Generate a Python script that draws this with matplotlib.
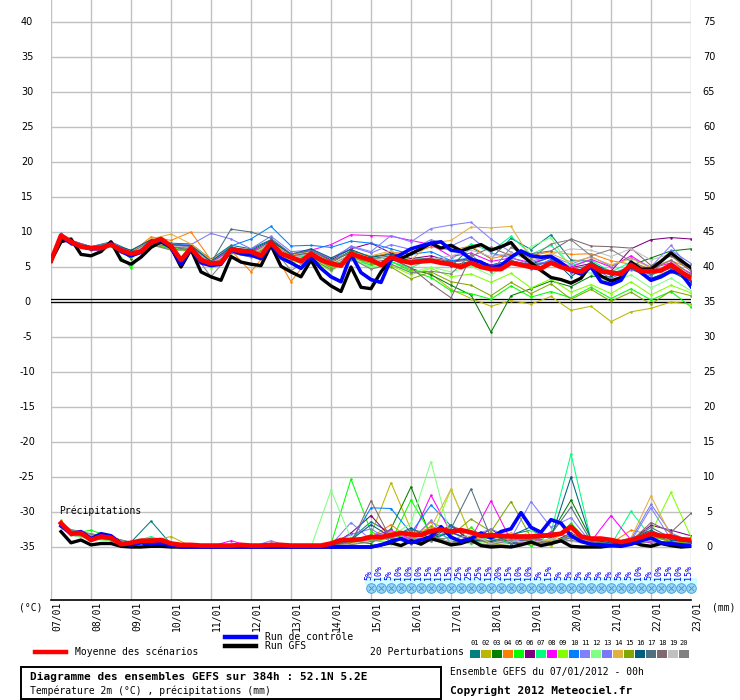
import numpy as np
import matplotlib
matplotlib.use('Agg')
import matplotlib.pyplot as plt
from matplotlib.transforms import blended_transform_factory, offset_copy
from matplotlib.patches import Rectangle
from matplotlib.lines import Line2D

# echeances en heures
hours6 = list(range(0, 385, 6))
hours_memb = [0, 6] + list(range(12, 385, 12))
hours_prec6 = list(range(6, 385, 6))
hours_prec_memb = [6] + list(range(12, 385, 12))

dates = ['07/01', '08/01', '09/01', '10/01', '11/01', '12/01', '13/01', '14/01', '15/01',
         '16/01', '17/01', '18/01', '19/01', '20/01', '21/01', '22/01', '23/01']
temp_ticks = list(range(-35, 41, 5))

# moyenne, run de controle, run GFS (temperature 2m, pas 6h)
t_mean = [5.9, 9.5, 8.6, 7.9, 7.7, 7.7, 8.2, 7.4, 6.9, 7.2,
          8.5, 9.0, 8.0, 6.0, 7.7, 6.0, 5.5, 5.6, 7.5, 7.3,
          7.2, 6.6, 8.5, 6.9, 6.4, 5.8, 6.9, 6.0, 5.5, 5.2,
          6.9, 6.4, 6.0, 5.3, 6.4, 5.9, 5.6, 5.8, 5.9, 5.6,
          5.4, 5.0, 5.6, 5.0, 4.7, 4.7, 5.6, 5.3, 5.0, 4.8,
          5.6, 5.0, 4.6, 4.3, 5.3, 4.4, 4.2, 4.0, 5.3, 4.4,
          4.4, 4.5, 5.3, 4.3, 3.4]
t_ctrl = [5.9, 9.3, 8.4, 7.9, 7.6, 7.6, 8.3, 7.2, 6.6, 7.1,
          8.6, 8.8, 7.8, 5.4, 7.6, 5.6, 5.2, 5.4, 7.4, 6.9,
          6.7, 6.2, 8.3, 6.3, 5.6, 4.8, 6.4, 4.8, 3.6, 2.9,
          6.8, 4.2, 3.2, 2.8, 6.1, 6.8, 7.6, 8.0, 8.4, 8.6,
          7.4, 7.2, 6.1, 5.7, 4.9, 5.2, 6.4, 7.3, 6.6, 6.4,
          6.5, 5.6, 4.5, 4.0, 5.0, 2.9, 2.5, 3.1, 5.4, 4.2,
          3.1, 3.6, 4.4, 4.1, 2.2]
t_gfs = [5.9, 8.6, 9.0, 6.8, 6.6, 7.2, 8.6, 6.0, 5.4, 6.4,
         7.8, 8.6, 7.8, 5.0, 7.5, 4.3, 3.6, 3.1, 6.5, 5.7,
         5.4, 5.2, 8.1, 5.1, 4.3, 3.6, 6.0, 3.4, 2.3, 1.5,
         5.0, 2.1, 1.9, 4.3, 6.1, 6.2, 6.9, 7.6, 8.4, 7.7,
         8.1, 7.3, 7.8, 8.2, 7.4, 7.9, 8.5, 6.8, 5.6, 4.5,
         3.5, 3.2, 2.7, 3.4, 5.3, 3.7, 3.0, 3.5, 5.7, 4.7,
         4.7, 5.8, 7.0, 5.9, 4.9]

# 20 perturbations (temperature 2m : 0h, 6h puis pas 12h)
t01 = [5.9, 9.5, 8.7, 7.9, 8.6, 7.3, 8.9, 8.4, 8.3, 6.1, 8.1, 7.6, 8.9, 6.8, 7.0, 5.8, 7.3, 6.5, 6.9, 6.1, 6.2, 5.1, 7.8, 6.2, 9.1, 7.5, 9.6, 6.0, 5.8, 3.9, 5.0, 3.3, 4.6, 2.6]
t02 = [5.9, 9.4, 8.4, 7.6, 8.1, 6.7, 8.6, 8.1, 7.8, 5.2, 7.8, 6.9, 8.3, 6.0, 6.6, 5.0, 6.5, 5.6, 5.8, 4.6, 4.0, 1.8, 0.5, -0.6, 0.2, -0.3, 0.8, -1.2, -0.6, -2.8, -1.4, -0.9, 0.0, -0.3]
t03 = [5.9, 9.6, 8.5, 7.8, 8.3, 6.2, 8.8, 7.5, 8.2, 5.8, 7.9, 7.0, 8.7, 6.6, 7.0, 5.6, 7.2, 6.1, 6.3, 4.8, 3.9, 2.4, 1.0, -4.3, 0.9, 1.9, 3.0, 2.2, 3.7, 3.6, 5.2, 6.3, 7.3, 7.6]
t04 = [5.9, 9.3, 8.6, 7.7, 8.4, 7.0, 9.3, 8.8, 10.0, 6.0, 7.4, 4.3, 7.9, 2.9, 6.6, 4.8, 6.6, 6.3, 7.1, 6.9, 7.9, 7.4, 8.0, 6.2, 6.8, 6.6, 7.2, 6.8, 6.9, 5.9, 5.4, 4.8, 5.9, 4.8]
t05 = [5.9, 9.7, 8.3, 7.5, 8.0, 4.9, 8.4, 7.8, 7.5, 5.0, 7.2, 6.6, 8.0, 5.8, 6.3, 4.6, 6.0, 5.3, 5.8, 4.4, 3.5, 1.6, 1.2, 0.4, 2.3, 0.7, 1.5, 0.6, 2.1, 0.5, 1.9, 0.3, 1.5, -0.7]
t06 = [5.9, 9.4, 8.8, 7.9, 8.1, 7.0, 8.6, 8.1, 7.8, 5.6, 7.6, 7.2, 8.6, 6.5, 7.5, 6.0, 7.6, 8.4, 7.0, 6.2, 6.6, 5.8, 6.2, 5.3, 5.9, 5.2, 5.8, 4.9, 5.5, 4.4, 7.6, 8.9, 9.2, 9.0]
t07 = [5.9, 9.5, 8.6, 7.6, 8.2, 6.8, 8.4, 7.7, 7.6, 5.2, 7.3, 7.0, 8.3, 6.2, 6.7, 5.1, 6.5, 5.2, 5.7, 4.9, 6.2, 6.0, 8.3, 7.2, 9.4, 6.8, 8.1, 5.2, 6.0, 4.3, 5.7, 3.8, 5.0, 3.6]
t08 = [5.9, 9.6, 8.5, 7.8, 8.2, 6.9, 8.5, 8.1, 7.6, 5.4, 7.7, 7.3, 8.4, 6.6, 7.4, 8.2, 9.6, 9.5, 9.4, 8.8, 8.2, 6.5, 7.0, 5.8, 6.3, 5.6, 6.4, 5.0, 6.1, 5.0, 6.6, 4.8, 5.6, 4.1]
t09 = [5.9, 9.3, 8.4, 7.6, 8.0, 6.6, 8.3, 7.6, 7.5, 4.9, 7.0, 6.8, 8.1, 5.6, 6.0, 4.4, 6.3, 4.9, 5.2, 3.9, 4.8, 3.6, 4.0, 2.8, 4.1, 2.0, 3.3, 1.4, 2.5, 1.2, 2.9, 1.0, 2.4, 1.3]
t10 = [5.9, 9.5, 8.7, 7.8, 8.3, 7.1, 8.7, 8.3, 8.1, 5.9, 8.0, 9.0, 10.8, 8.0, 8.1, 7.8, 8.7, 8.4, 7.6, 6.8, 7.2, 5.9, 6.3, 5.2, 6.0, 4.7, 6.1, 4.2, 5.2, 3.8, 5.1, 3.9, 4.9, 2.9]
t11 = [5.9, 9.8, 8.8, 7.9, 8.5, 7.2, 8.8, 8.3, 7.9, 5.7, 7.7, 7.0, 8.6, 6.5, 6.9, 5.6, 8.0, 7.2, 9.5, 8.6, 10.5, 11.0, 11.4, 9.0, 7.1, 5.8, 6.6, 5.4, 6.5, 5.1, 6.3, 5.0, 8.1, 4.6]
t12 = [5.9, 9.4, 8.4, 7.7, 8.0, 6.5, 8.1, 7.5, 7.2, 5.0, 7.0, 6.8, 8.0, 5.9, 6.4, 4.8, 6.1, 5.0, 5.4, 4.2, 5.0, 4.3, 5.1, 3.8, 6.0, 7.9, 9.2, 4.8, 4.1, 2.6, 3.9, 2.0, 3.4, 1.6]
t13 = [5.9, 9.5, 8.6, 7.8, 8.3, 7.0, 8.7, 8.0, 8.2, 9.8, 9.0, 7.6, 9.4, 7.2, 7.4, 6.2, 7.9, 7.0, 8.2, 7.5, 8.9, 8.0, 9.3, 7.0, 6.3, 5.4, 5.8, 4.3, 5.0, 3.4, 4.6, 3.7, 7.4, 5.5]
t14 = [5.9, 9.6, 8.5, 7.7, 8.4, 7.1, 9.0, 9.7, 8.3, 6.0, 7.8, 7.0, 8.5, 6.7, 7.2, 5.8, 7.1, 6.6, 7.3, 6.0, 8.4, 8.8, 10.7, 10.6, 10.8, 6.2, 6.9, 5.7, 6.4, 5.3, 6.2, 4.9, 6.0, 3.3]
t15 = [5.9, 9.3, 8.3, 7.5, 8.0, 6.4, 8.2, 7.6, 7.3, 5.1, 7.1, 6.7, 8.1, 6.0, 6.5, 4.9, 6.4, 5.5, 5.0, 3.3, 4.3, 2.9, 2.4, 0.9, 2.8, 1.2, 2.6, 0.4, 1.8, 0.1, 1.4, -0.3, 1.6, 0.9]
t16 = [5.9, 9.5, 8.6, 7.8, 8.3, 7.4, 8.9, 8.2, 8.0, 5.8, 7.8, 7.4, 8.8, 6.8, 7.6, 6.3, 7.5, 6.4, 6.8, 5.8, 6.0, 5.2, 5.8, 4.8, 5.7, 5.4, 6.4, 3.6, 5.7, 3.9, 4.8, 3.4, 4.3, 3.0]
t17 = [5.9, 9.7, 8.7, 7.9, 8.4, 7.1, 8.6, 8.2, 7.9, 5.6, 10.4, 10.0, 9.1, 6.9, 7.3, 5.9, 7.0, 6.2, 6.6, 5.9, 6.3, 5.7, 6.0, 5.0, 5.9, 5.3, 5.6, 4.7, 5.2, 4.0, 5.1, 4.0, 4.8, 3.8]
t18 = [5.9, 9.4, 8.5, 7.7, 8.1, 6.8, 8.4, 7.9, 7.4, 5.3, 7.4, 7.1, 8.3, 6.2, 7.0, 5.4, 6.7, 5.7, 6.1, 4.9, 2.6, 0.6, 6.5, 7.8, 6.6, 6.9, 7.3, 9.0, 8.0, 7.9, 7.7, 5.2, 6.6, 4.4]
t19 = [5.9, 9.5, 8.6, 7.7, 8.2, 6.9, 8.6, 8.0, 7.8, 5.5, 7.2, 6.8, 8.4, 6.3, 6.9, 5.5, 6.8, 6.0, 6.4, 5.4, 6.1, 6.6, 7.4, 6.5, 7.0, 6.0, 6.8, 7.6, 7.4, 6.5, 7.6, 6.0, 6.9, 5.0]
t20 = [5.9, 9.2, 8.4, 7.6, 8.1, 6.6, 8.2, 7.4, 7.5, 3.6, 7.0, 6.4, 8.0, 4.5, 6.2, 4.6, 6.2, 4.7, 5.4, 4.2, 4.4, 4.0, 6.8, 4.3, 7.8, 6.2, 8.3, 8.9, 6.6, 7.5, 5.8, 4.6, 6.0, 3.9]

# precipitations (mm / 6h)
p_mean = [3.4, 1.9, 2.0, 1.0, 1.5, 1.3, 0.4, 0.6, 0.9, 0.9,
          1.0, 0.5, 0.3, 0.3, 0.2, 0.2, 0.2, 0.2, 0.3, 0.2,
          0.2, 0.3, 0.3, 0.2, 0.2, 0.2, 0.2, 0.5, 1.0, 1.0,
          1.1, 1.4, 1.4, 1.7, 2.0, 1.8, 1.7, 2.3, 2.5, 2.2,
          2.4, 2.1, 1.6, 1.7, 1.6, 1.5, 1.5, 1.5, 1.6, 1.7,
          1.9, 2.9, 1.5, 1.2, 1.2, 1.0, 0.7, 1.0, 1.4, 1.9,
          1.6, 1.5, 1.1, 1.0]
p_ctrl = [3.0, 1.9, 2.2, 1.2, 1.9, 1.6, 0.5, 0.3, 0.6, 0.4,
          0.5, 0.2, 0.0, 0.0, 0.0, 0.0, 0.0, 0.0, 0.0, 0.0,
          0.0, 0.0, 0.0, 0.0, 0.0, 0.0, 0.0, 0.0, 0.0, 0.0,
          0.0, 0.0, 0.3, 0.8, 1.2, 0.6, 1.0, 1.5, 2.9, 1.4,
          0.8, 1.2, 2.0, 1.3, 2.2, 2.6, 4.9, 2.8, 2.1, 3.9,
          3.4, 1.6, 0.8, 0.4, 0.3, 0.2, 0.1, 0.4, 0.9, 1.3,
          0.6, 0.5, 0.3, 0.2]
p_gfs = [2.2, 0.6, 1.0, 0.3, 0.5, 0.5, 0.1, 0.0, 0.0, 0.1,
         0.1, 0.0, 0.0, 0.0, 0.0, 0.0, 0.0, 0.0, 0.0, 0.0,
         0.0, 0.0, 0.0, 0.0, 0.0, 0.0, 0.0, 0.0, 0.0, 0.0,
         0.0, 0.0, 0.3, 0.6, 0.2, 0.9, 0.4, 1.2, 0.8, 0.3,
         0.5, 1.0, 0.2, 0.0, 0.1, 0.0, 0.3, 0.7, 0.2, 0.5,
         0.9, 0.1, 0.0, 0.0, 0.0, 0.2, 0.4, 0.8, 0.3, 0.1,
         0.5, 0.2, 0.0, 0.1]

p01 = [3.4, 2.2, 1.6, 1.3, 0.7, 3.7, 0.4, 0.1, 0.0, 0.2, 0.0, 0.1, 0.0, 0.0, 0.2, 1.2, 3.6, 2.0, 0.8, 1.5, 2.1, 1.0, 0.6, 1.8, 2.4, 1.1, 3.0, 0.5, 0.2, 1.0, 2.2, 0.7, 0.4]
p02 = [3.8, 2.0, 1.3, 1.5, 0.5, 0.8, 1.5, 0.1, 0.0, 0.0, 0.1, 0.0, 0.0, 0.0, 0.1, 0.6, 1.8, 9.2, 2.5, 1.0, 0.4, 1.6, 0.3, 0.5, 1.0, 0.2, 1.8, 0.4, 0.1, 0.6, 2.0, 1.2, 0.3]
p03 = [3.3, 1.8, 1.2, 1.1, 0.6, 1.2, 0.3, 0.0, 0.0, 0.1, 0.0, 0.0, 0.0, 0.0, 0.1, 0.8, 0.5, 2.6, 8.6, 1.4, 3.2, 0.9, 1.8, 0.6, 0.3, 1.9, 6.7, 1.2, 0.5, 0.8, 1.5, 0.9, 0.6]
p04 = [3.1, 2.1, 1.5, 1.2, 0.4, 0.9, 0.2, 0.0, 0.0, 0.0, 0.0, 0.0, 0.0, 0.0, 0.0, 0.5, 1.4, 3.2, 1.0, 3.6, 2.2, 0.7, 1.3, 2.0, 0.6, 0.9, 1.6, 0.3, 0.5, 2.4, 1.8, 0.6, 1.0]
p05 = [3.5, 1.9, 2.4, 1.4, 0.5, 1.0, 0.3, 0.1, 0.0, 0.0, 0.0, 0.0, 0.0, 0.0, 0.4, 9.7, 2.2, 0.8, 6.7, 1.9, 0.5, 2.8, 0.4, 1.1, 0.2, 0.7, 3.4, 0.3, 0.1, 0.5, 1.2, 0.4, 0.2]
p06 = [3.2, 1.7, 1.2, 1.0, 0.4, 0.8, 0.2, 0.0, 0.0, 0.0, 0.0, 0.0, 0.0, 0.0, 0.2, 2.0, 4.5, 1.3, 0.6, 1.2, 3.0, 0.8, 2.6, 0.4, 1.5, 0.6, 2.0, 0.5, 0.2, 0.9, 3.1, 2.4, 1.6]
p07 = [3.3, 1.8, 1.1, 1.0, 0.6, 1.5, 0.4, 0.1, 0.0, 0.0, 0.0, 0.0, 0.0, 0.0, 0.1, 0.7, 1.0, 0.5, 1.6, 2.4, 1.1, 0.6, 0.9, 1.4, 0.8, 2.1, 13.3, 1.0, 0.3, 5.1, 1.4, 0.9, 0.4]
p08 = [3.6, 2.0, 1.4, 1.2, 0.5, 0.9, 0.3, 0.0, 0.1, 0.9, 0.1, 0.0, 0.0, 0.0, 0.0, 0.3, 1.5, 2.4, 1.1, 7.4, 2.0, 1.2, 6.6, 0.9, 0.5, 2.2, 1.4, 0.8, 4.5, 1.0, 0.6, 0.3, 0.2]
p09 = [3.4, 1.9, 1.3, 1.1, 0.5, 0.9, 0.2, 0.0, 0.0, 0.0, 0.0, 0.0, 0.0, 0.0, 0.0, 0.4, 1.1, 0.7, 2.2, 1.3, 8.2, 1.6, 0.7, 1.9, 0.5, 1.0, 2.6, 0.6, 0.4, 1.3, 2.0, 7.8, 1.4]
p10 = [3.2, 2.3, 1.7, 1.3, 0.6, 1.1, 0.3, 0.1, 0.0, 0.0, 0.0, 0.0, 0.0, 0.0, 0.1, 0.8, 5.6, 5.5, 2.0, 6.0, 3.0, 2.0, 1.1, 0.5, 1.3, 0.7, 1.6, 0.4, 0.3, 0.6, 1.0, 0.5, 0.3]
p11 = [3.1, 1.8, 1.2, 1.0, 0.5, 0.8, 0.2, 0.0, 0.0, 0.0, 0.0, 0.9, 0.0, 0.0, 0.3, 3.5, 1.0, 2.3, 0.9, 3.8, 0.6, 1.5, 2.6, 1.2, 6.5, 2.8, 4.2, 0.6, 0.3, 0.8, 5.6, 1.1, 0.5]
p12 = [3.0, 1.7, 1.1, 0.9, 0.4, 0.7, 0.2, 0.0, 0.0, 0.0, 0.0, 0.0, 0.0, 0.0, 8.1, 1.2, 0.9, 1.5, 3.4, 12.2, 1.1, 0.4, 1.0, 0.6, 2.4, 0.3, 1.3, 0.5, 0.2, 0.4, 0.9, 0.3, 0.2]
p13 = [3.3, 2.0, 1.3, 1.2, 0.5, 0.9, 0.3, 0.0, 0.0, 0.0, 0.0, 0.0, 0.0, 0.1, 0.4, 1.8, 2.6, 0.8, 1.4, 0.9, 2.2, 0.8, 1.6, 0.9, 1.2, 0.6, 1.4, 0.9, 0.5, 1.1, 6.1, 2.0, 0.8]
p14 = [3.5, 2.1, 1.4, 1.3, 0.6, 1.0, 0.3, 0.0, 0.0, 0.0, 0.0, 0.0, 0.0, 0.0, 0.0, 0.6, 1.2, 2.1, 1.7, 2.8, 8.3, 1.5, 0.8, 1.7, 0.6, 1.0, 2.5, 0.4, 0.2, 1.3, 7.3, 1.6, 0.8]
p15 = [3.2, 1.9, 1.2, 1.0, 0.5, 0.8, 0.2, 0.0, 0.0, 0.0, 0.0, 0.0, 0.0, 0.0, 0.1, 0.7, 1.0, 1.9, 0.8, 3.0, 1.6, 4.0, 2.2, 6.5, 1.4, 0.6, 1.8, 0.9, 0.3, 0.7, 1.5, 0.8, 0.5]
p16 = [3.4, 2.0, 1.4, 1.1, 0.6, 1.2, 0.3, 0.0, 0.0, 0.0, 0.0, 0.0, 0.0, 0.0, 0.2, 1.0, 3.2, 1.4, 2.7, 1.2, 2.1, 1.0, 0.8, 1.6, 2.9, 1.3, 10.0, 1.0, 0.6, 1.2, 2.4, 1.0, 0.7]
p17 = [3.3, 2.2, 1.5, 1.3, 0.6, 1.1, 0.4, 0.1, 0.0, 0.0, 0.0, 0.0, 0.0, 0.0, 0.1, 0.9, 1.7, 1.2, 2.5, 1.9, 2.6, 8.3, 1.3, 0.6, 1.1, 1.8, 5.7, 0.8, 0.4, 0.9, 2.8, 1.3, 0.9]
p18 = [3.6, 2.4, 1.8, 1.3, 0.5, 1.0, 0.3, 0.0, 0.0, 0.0, 0.0, 0.0, 0.0, 0.0, 0.1, 0.5, 6.6, 1.1, 0.9, 1.5, 0.7, 1.3, 0.6, 1.4, 0.8, 0.5, 1.3, 0.6, 0.3, 0.8, 3.5, 2.1, 4.8]
p19 = [3.5, 2.3, 1.7, 1.2, 0.5, 1.0, 0.3, 0.0, 0.0, 0.0, 0.0, 0.0, 0.0, 0.0, 0.1, 0.4, 1.1, 1.6, 0.6, 1.2, 0.8, 1.9, 0.5, 0.9, 0.6, 1.2, 0.8, 0.4, 0.2, 0.6, 1.0, 0.5, 0.3]
p20 = [3.4, 2.5, 1.9, 1.4, 0.6, 1.1, 0.4, 0.1, 0.0, 0.0, 0.0, 0.0, 0.0, 0.0, 0.0, 0.3, 0.8, 1.3, 0.5, 0.9, 1.4, 0.6, 0.3, 1.0, 1.3, 0.4, 1.0, 0.3, 0.1, 0.4, 0.8, 0.3, 0.2]

# probabilite de neige (%)
snow_hours = list(range(192, 385, 6))
snow_pct = [5, 10, 5, 10, 10, 10, 15, 15, 15, 25, 25, 25, 15, 20, 15, 10, 10,
            5, 15, 5, 5, 5, 5, 5, 5, 5, 5, 10, 5, 10, 15, 10, 15]

member_colors = ['#008080', '#b8b800', '#008000', '#ff8000', '#00ff00', '#800080', '#00ff80',
                 '#ff00ff', '#80ff00', '#0080ff', '#8080ff', '#80ff80', '#7878f8', '#e0b040',
                 '#80a800', '#005f80', '#507080', '#806870', '#c0c0c0', '#808080']
temp_members = [t01, t02, t03, t04, t05, t06, t07, t08, t09, t10,
                t11, t12, t13, t14, t15, t16, t17, t18, t19, t20]
prec_members = [p01, p02, p03, p04, p05, p06, p07, p08, p09, p10,
                p11, p12, p13, p14, p15, p16, p17, p18, p19, p20]
PREC_OFFSET = -35   # les precipitations sont tracees sous l'echelle -35

W, H = 740, 700
MONO = 'DejaVu Sans Mono'


def fx(px):
    return px / W


def fy(py):
    return 1 - py / H


fig = plt.figure(figsize=(W / 100, H / 100), dpi=100)
fig.patch.set_facecolor('white')
ax = fig.add_axes([fx(51), fy(600), 640 / W, 600 / H])
ax.set_xlim(0, 384)
ax.set_ylim(-298 / 7, 302 / 7)
ax.set_xticks(range(0, 385, 24))
ax.set_yticks(temp_ticks)
ax.grid(True, color='#c0c0c0', lw=1.0)
ax.set_axisbelow(True)
ax.tick_params(length=0, labelbottom=False, labelleft=False)
for s in ['top', 'left', 'right']:
    ax.spines[s].set_visible(False)
ax.spines['bottom'].set_color('black')
ax.spines['bottom'].set_linewidth(1.2)

# ligne du zero (double)
ax.axhline(0.45, color='black', lw=0.9)
ax.axhline(0.02, color='black', lw=0.9)

# perturbations
for vals, c in zip(temp_members, member_colors):
    ax.plot(hours_memb, vals, color=c, lw=0.75, marker='o', ms=1.8, mew=0)
for vals, c in zip(prec_members, member_colors):
    ax.plot(hours_prec_memb, np.array(vals) + PREC_OFFSET, color=c, lw=0.75,
            marker='o', ms=1.8, mew=0)

ax.plot(hours6, t_gfs, color='black', lw=2.4)
ax.plot(hours6, t_ctrl, color='#0000ff', lw=2.6)
ax.plot(hours6, t_mean, color='#ff0000', lw=3.4)
ax.plot(hours_prec6, np.array(p_gfs) + PREC_OFFSET, color='black', lw=2.4)
ax.plot(hours_prec6, np.array(p_ctrl) + PREC_OFFSET, color='#0000ff', lw=2.6)
ax.plot(hours_prec6, np.array(p_mean) + PREC_OFFSET, color='#ff0000', lw=3.4)

# etiquettes des axes
tr_left = blended_transform_factory(fig.transFigure, ax.transData)
for v in temp_ticks:
    ax.text(fx(27), v, str(v), transform=tr_left, ha='center', va='center',
            fontsize=7, clip_on=False)
    ax.text(fx(709), v, str(v - PREC_OFFSET), transform=tr_left, ha='center',
            va='center', fontsize=7, clip_on=False)

tr_bot = blended_transform_factory(ax.transData, fig.transFigure)
tr_dates = offset_copy(tr_bot, fig=fig, x=6, y=0, units='dots')
for k, d in enumerate(dates):
    ax.text(24 * k, fy(602), d, transform=tr_dates, rotation=90, ha='center',
            va='top', fontsize=7, family=MONO, clip_on=False)
fig.text(fx(31), fy(607), '(°C)', ha='center', va='center', fontsize=7, family=MONO)
fig.text(fx(724), fy(607), '(mm)', ha='center', va='center', fontsize=7, family=MONO)
fig.text(fx(59), fy(511), 'Précipitations', ha='left', va='center', fontsize=7, family=MONO)

# bande neige
ax.add_patch(Rectangle((snow_hours[0] - 3.5, fy(585)), snow_hours[-1] - snow_hours[0] + 7,
                       7 / H, transform=tr_bot, facecolor='#ccffff', lw=0,
                       zorder=4, clip_on=False))
ax.scatter(snow_hours, [fy(588)] * len(snow_hours), transform=tr_bot, s=48,
           facecolor='#9ad8f5', edgecolor='#4aa0e0', lw=0.7, zorder=5, clip_on=False)
ax.scatter(snow_hours, [fy(588)] * len(snow_hours), transform=tr_bot, s=14,
           marker='x', color='#3a8fd8', lw=0.6, zorder=6, clip_on=False)
tr_pct = offset_copy(tr_bot, fig=fig, x=-2, y=0, units='dots')
for h, p in zip(snow_hours, snow_pct):
    ax.text(h, fy(580), f'{p}%', transform=tr_pct, rotation=90, ha='center',
            va='bottom', fontsize=6, family=MONO, color='#0000ff', zorder=10,
            clip_on=False)

# legende
fig.add_artist(Line2D([fx(35), fx(66)], [fy(652), fy(652)], transform=fig.transFigure,
                      color='#ff0000', lw=3.2))
fig.text(fx(75), fy(652), 'Moyenne des scénarios', ha='left', va='center',
         fontsize=7, family=MONO)
fig.add_artist(Line2D([fx(225), fx(256)], [fy(637), fy(637)], transform=fig.transFigure,
                      color='#0000ff', lw=3.2))
fig.text(fx(265), fy(637), 'Run de contrôle', ha='left', va='center', fontsize=7, family=MONO)
fig.add_artist(Line2D([fx(225), fx(256)], [fy(646), fy(646)], transform=fig.transFigure,
                      color='black', lw=3.2))
fig.text(fx(265), fy(646), 'Run GFS', ha='left', va='center', fontsize=7, family=MONO)
fig.text(fx(370), fy(652), '20 Perturbations', ha='left', va='center', fontsize=7, family=MONO)
for k, c in enumerate(member_colors):
    x0 = 470 + 11 * k
    fig.add_artist(Rectangle((fx(x0), fy(658)), 10 / W, 8 / H,
                             transform=fig.transFigure, color=c, lw=0))
    fig.text(fx(x0 + 5), fy(643), f'{k + 1:02d}', ha='center', va='center',
             fontsize=5, family=MONO)

# cartouche
fig.add_artist(Rectangle((fx(21), fy(699)), 420 / W, 32 / H, transform=fig.transFigure,
                         fill=False, edgecolor='black', lw=1.4))
fig.text(fx(30), fy(677), 'Diagramme des ensembles GEFS sur 384h : 52.1N 5.2E',
         ha='left', va='center', fontsize=8, family=MONO, weight='bold')
fig.text(fx(30), fy(691), 'Température 2m (°C) , précipitations (mm)',
         ha='left', va='center', fontsize=7, family=MONO)
fig.text(fx(450), fy(672), 'Ensemble GEFS du 07/01/2012 - 00h',
         ha='left', va='center', fontsize=7, family=MONO)
fig.text(fx(450), fy(691), 'Copyright 2012 Meteociel.fr',
         ha='left', va='center', fontsize=8, family=MONO, weight='bold')

fig.savefig('out.png', dpi=100)
